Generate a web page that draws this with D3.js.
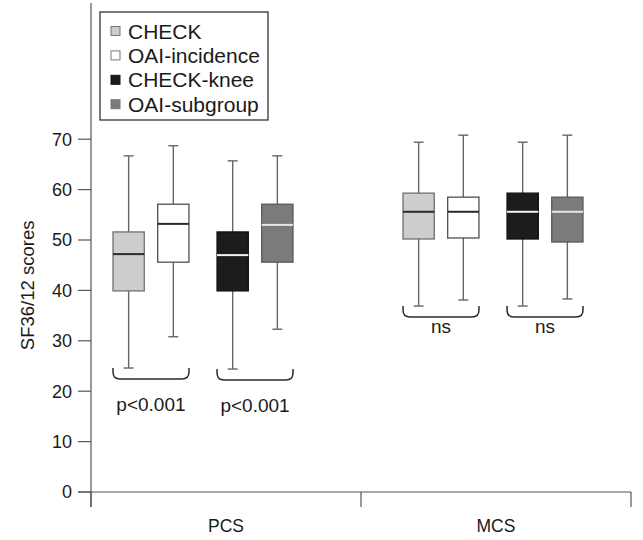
<!DOCTYPE html>
<html><head><meta charset="utf-8">
<script src="https://cdn.jsdelivr.net/npm/d3@7"></script>
<style>body{margin:0;background:#fff;} text{font-family:"Liberation Sans",Arial,sans-serif;fill:#1a1a1a;}</style>
</head><body>
<svg id="chart" width="643" height="540"></svg>
<script>
const categories = ["PCS", "MCS"];
const series = ["CHECK", "OAI-incidence", "CHECK-knee", "OAI-subgroup"];
const yTicks = [0, 10, 20, 30, 40, 50, 60, 70];
// per category, values for the 4 series
const minValues    = { PCS: [24.6, 30.8, 24.4, 32.3], MCS: [36.9, 38.1, 36.9, 38.3] };
const q1Values     = { PCS: [39.9, 45.6, 39.9, 45.6], MCS: [50.2, 50.4, 50.2, 49.6] };
const medianValues = { PCS: [47.2, 53.2, 47.0, 53.0], MCS: [55.6, 55.6, 55.6, 55.6] };
const q3Values     = { PCS: [51.6, 57.1, 51.6, 57.1], MCS: [59.3, 58.5, 59.3, 58.5] };
const maxValues    = { PCS: [66.7, 68.7, 65.7, 66.7], MCS: [69.4, 70.8, 69.4, 70.8] };
const pairLabels   = { PCS: ["p<0.001", "p<0.001"], MCS: ["ns", "ns"] };

const fills   = ["#cdcdcd", "#ffffff", "#1c1c1c", "#7b7b7b"];
const strokes = ["#707070", "#505050", "#111111", "#5a5a5a"];
const medCol  = ["#2a2a2a", "#2a2a2a", "#f2f2f2", "#e6e6e6"];

const svg = d3.select("#chart");
const axisX0 = 91, axisX1 = 631, baseY = 492;
const y = d3.scaleLinear().domain([0, 70]).range([baseY, baseY - 70 * 5.04]);
const x0 = d3.scaleBand().domain(categories).range([axisX0, axisX1]);
const groupOffset = { PCS: 22, MCS: 42 };
const groupWidth = 180;
const pairScale = d3.scaleBand().domain([0, 1]).range([0, groupWidth]).paddingInner(0.27);
const inPair = d3.scaleBand().domain([0, 1]).range([0, pairScale.bandwidth()]).paddingInner(0.3);
const boxX = (cat, i) => x0(cat) + groupOffset[cat] + pairScale(Math.floor(i / 2)) + inPair(i % 2);
const bw = inPair.bandwidth();

// y axis line
svg.append("line").attr("x1", axisX0).attr("x2", axisX0).attr("y1", 3).attr("y2", baseY + 15)
  .attr("stroke", "#555").attr("stroke-width", 1.2);
// y ticks
const yt = svg.append("g");
yt.selectAll("line").data(yTicks).join("line")
  .attr("x1", axisX0 - 13).attr("x2", axisX0).attr("y1", d => y(d)).attr("y2", d => y(d))
  .attr("stroke", "#555").attr("stroke-width", 1.2);
yt.selectAll("text").data(yTicks).join("text")
  .attr("x", axisX0 - 19).attr("y", d => y(d)).attr("dy", "0.36em")
  .attr("text-anchor", "end").attr("font-size", 18).text(d => d);
// y title
svg.append("text").attr("transform", `translate(27,${y(41)}) rotate(-90)`)
  .attr("text-anchor", "middle").attr("dy", "0.36em").attr("font-size", 18.5).text("SF36/12 scores");

// x axis
svg.append("line").attr("x1", axisX0 - 13).attr("x2", axisX1).attr("y1", baseY).attr("y2", baseY)
  .attr("stroke", "#555").attr("stroke-width", 1.2);
const bounds = [axisX0, x0("MCS"), axisX1];
svg.selectAll(".xt").data(bounds).join("line").attr("class", "xt")
  .attr("x1", d => d).attr("x2", d => d).attr("y1", baseY).attr("y2", baseY + 15)
  .attr("stroke", "#555").attr("stroke-width", 1.2);
svg.selectAll(".xl").data(categories).join("text").attr("class", "xl")
  .attr("x", d => x0(d) + x0.bandwidth() / 2).attr("y", baseY + 40)
  .attr("text-anchor", "middle").attr("font-size", 17.5).text(d => d);

// boxes
categories.forEach(cat => {
  const g = svg.append("g");
  series.forEach((s, i) => {
    const bx = boxX(cat, i), cx = bx + bw / 2;
    const wc = "#666";
    g.append("line").attr("x1", cx).attr("x2", cx).attr("y1", y(maxValues[cat][i])).attr("y2", y(minValues[cat][i]))
      .attr("stroke", wc).attr("stroke-width", 1.4);
    [maxValues[cat][i], minValues[cat][i]].forEach(v => {
      g.append("line").attr("x1", cx - 5).attr("x2", cx + 5).attr("y1", y(v)).attr("y2", y(v))
        .attr("stroke", wc).attr("stroke-width", 1.4);
    });
    g.append("rect").attr("x", bx).attr("width", bw)
      .attr("y", y(q3Values[cat][i])).attr("height", y(q1Values[cat][i]) - y(q3Values[cat][i]))
      .attr("fill", fills[i]).attr("stroke", strokes[i]).attr("stroke-width", 1.3);
    g.append("line").attr("x1", bx).attr("x2", bx + bw).attr("y1", y(medianValues[cat][i])).attr("y2", y(medianValues[cat][i]))
      .attr("stroke", medCol[i]).attr("stroke-width", 2);
  });
  // brackets
  [0, 1].forEach(p => {
    const xa = boxX(cat, p * 2), xb = boxX(cat, p * 2 + 1) + bw;
    const top = y(Math.min(minValues[cat][p * 2], minValues[cat][p * 2 + 1]));
    const bot = top + 11, r = 7;
    const path = `M${xa},${top} L${xa},${bot - r} Q${xa},${bot} ${xa + r},${bot} L${xb - r},${bot} Q${xb},${bot} ${xb},${bot - r} L${xb},${top}`;
    g.append("path").attr("d", path).attr("fill", "none").attr("stroke", "#2a2a2a").attr("stroke-width", 1.5);
    const lbl = pairLabels[cat][p];
    g.append("text").attr("x", (xa + xb) / 2).attr("y", lbl === "ns" ? bot + 16 : bot + 32)
      .attr("text-anchor", "middle").attr("font-size", 19).text(lbl);
  });
});

// legend
const lg = svg.append("g");
lg.append("rect").attr("x", 100).attr("y", 12).attr("width", 168).attr("height", 108)
  .attr("fill", "#fff").attr("stroke", "#333").attr("stroke-width", 1.3);
series.forEach((s, i) => {
  const cy = 31 + i * 24.4;
  lg.append("rect").attr("x", 111).attr("y", cy - 4.5).attr("width", 9).attr("height", 9)
    .attr("fill", fills[i]).attr("stroke", i === 2 ? "#111" : "#777").attr("stroke-width", 1);
  lg.append("text").attr("x", 128).attr("y", cy).attr("dy", "0.36em").attr("font-size", 21).text(s);
});
</script>
</body></html>
